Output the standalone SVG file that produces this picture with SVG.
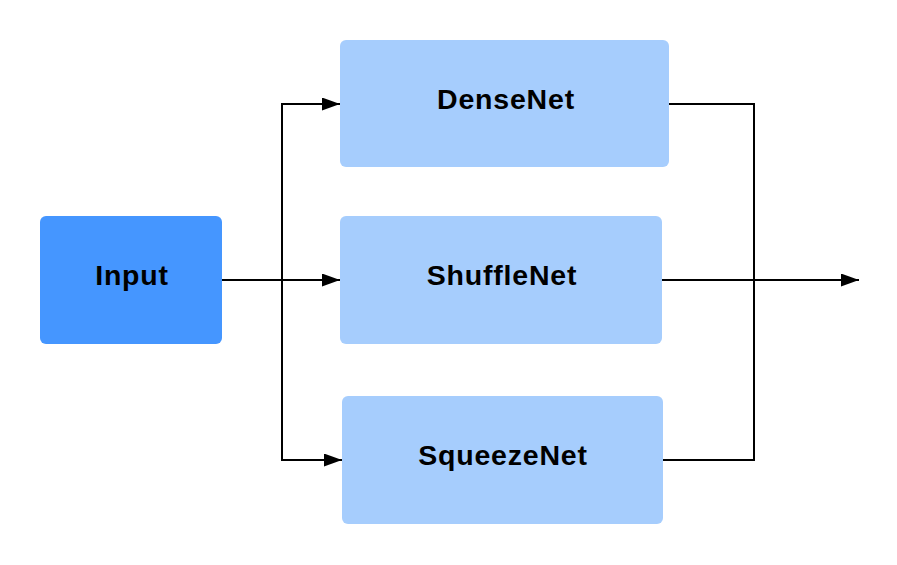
<svg xmlns="http://www.w3.org/2000/svg" width="897" height="565" viewBox="0 0 897 565">
<style>
.box{fill:#a6cdfd}
.inp{fill:#4596ff}
.lbl{font-family:"Liberation Sans",Arial,sans-serif;font-weight:bold;font-size:28.5px;letter-spacing:0.8px;fill:#000;text-anchor:middle;dominant-baseline:central}
.ln{fill:none;stroke:#000;stroke-width:2}
</style>
<defs>
<marker id="ah" markerWidth="18" markerHeight="13" refX="18" refY="6.5" orient="auto" markerUnits="userSpaceOnUse">
<path d="M0,0 L18,6.5 L0,13 Z" fill="#000"/>
</marker>
</defs>
<rect width="897" height="565" fill="#fff"/>
<g id="input"><rect class="inp" x="40" y="216" width="182" height="128" rx="6"/><text class="lbl" x="132" y="275">Input</text></g>
<g id="densenet"><rect class="box" x="340" y="40" width="329" height="127" rx="6"/><text class="lbl" x="506" y="99">DenseNet</text></g>
<g id="shufflenet"><rect class="box" x="340" y="216" width="322" height="128" rx="6"/><text class="lbl" x="502" y="275">ShuffleNet</text></g>
<g id="squeezenet"><rect class="box" x="342" y="396" width="321" height="128" rx="6"/><text class="lbl" x="503" y="455">SqueezeNet</text></g>
<g id="connectors">
<path class="ln" d="M222,280 L340,280" marker-end="url(#ah)"/>
<path class="ln" d="M282,280 L282,104 L340,104" marker-end="url(#ah)"/>
<path class="ln" d="M282,280 L282,460 L342,460" marker-end="url(#ah)"/>
<path class="ln" d="M669,104 L754,104 L754,460 L663,460"/>
<path class="ln" d="M662,280 L859,280" marker-end="url(#ah)"/>
</g>
</svg>
